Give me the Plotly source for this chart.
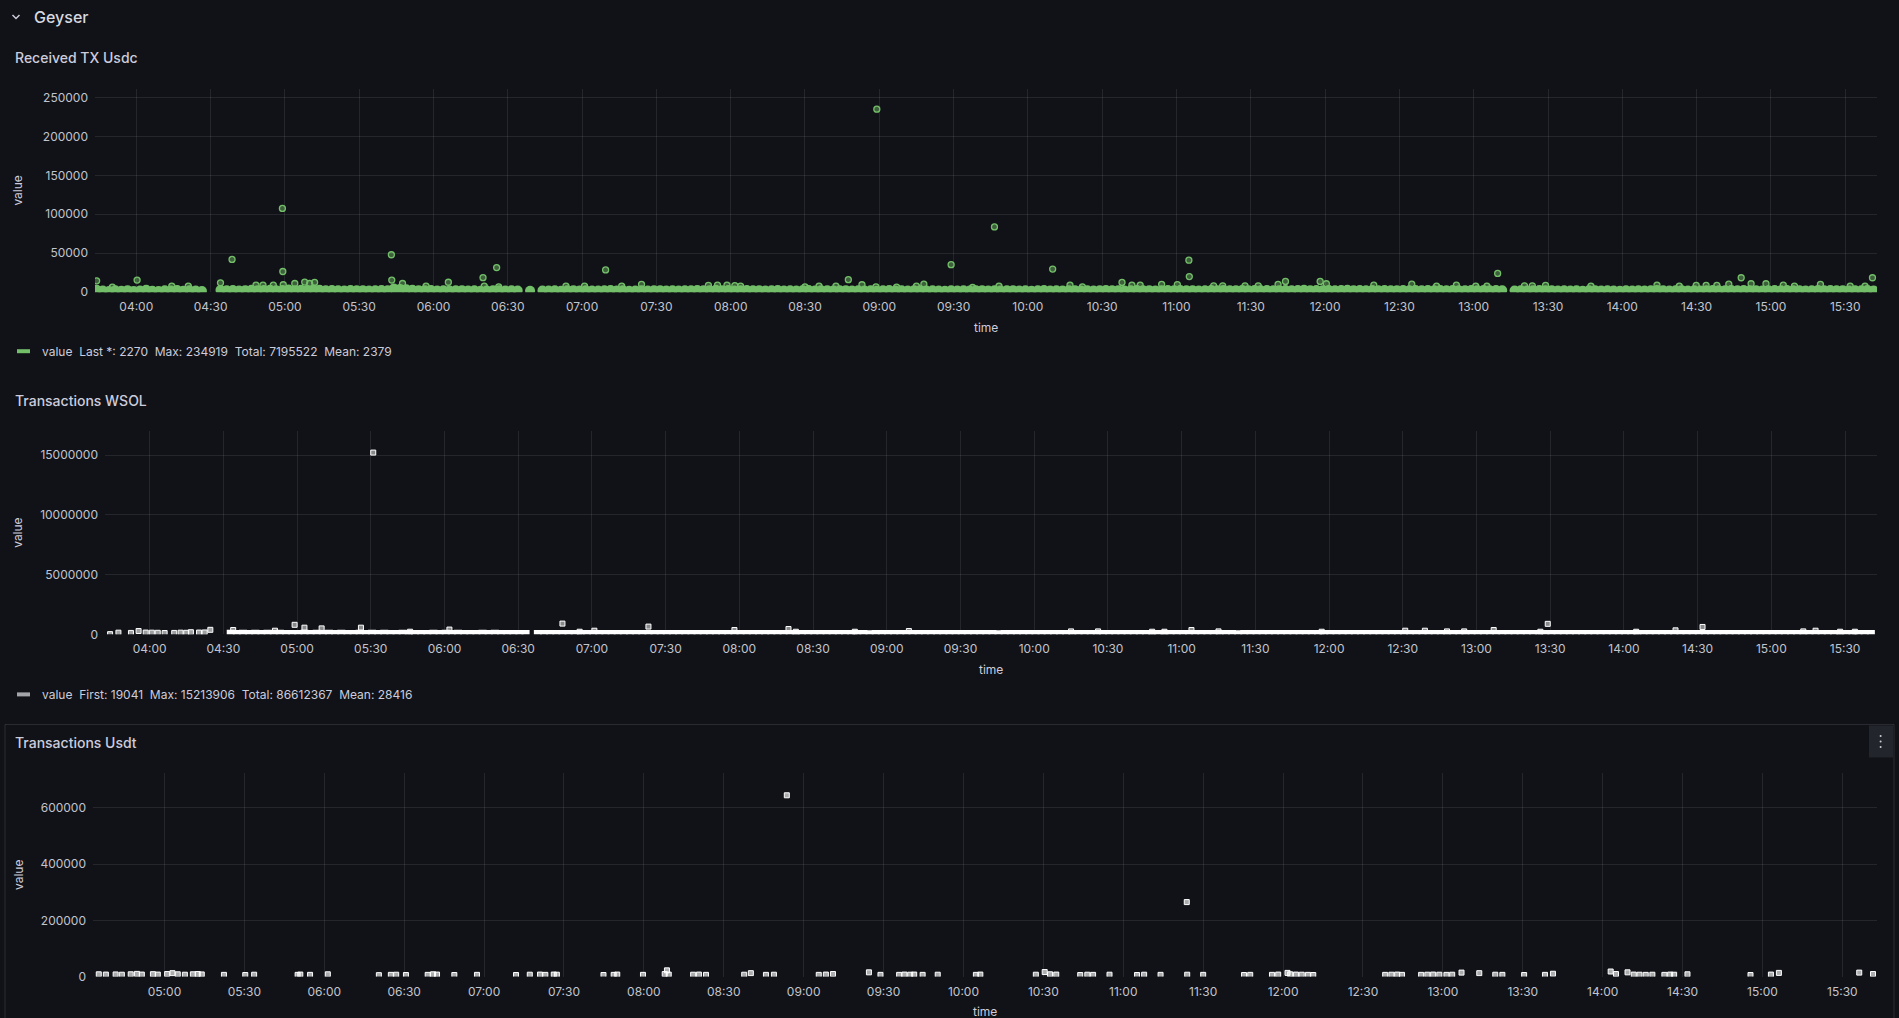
import plotly.graph_objects as go
import pandas as pd

W, H = 1899, 1018
YS = 1.0075  # vertical calibration of page pixels
DAY = "2024-01-01 "
FONT = "Inter"
BG = "#111217"
TXT = "#ccccdc"
TICK = "#c2c4cd"
GRID = "rgba(204,204,220,0.11)"
GREEN = "#73BF69"

# ---------------- Panel 1: Received TX Usdc ----------------
usdc_band_start = "03:44:00"
usdc_band_step = "150s"
usdc_band_values = [
    3200, 2100, 1600, 2400, 1800, 2600, 1500, 2200, 3100, 1900, 1400, 2300, 2000, 2700, 1700, 2500, 2100, 1600, None, None, 2900, 2400, 2800, 2200,
    2600, 3000, 2300, 2700, 3200, 2500, 2900, 3400, 2600, 3100, 2800, 3500, 3000, 2400, 2900, 2500, 2200, 2700, 2300, 2600, 2100, 2500, 2800, 2300,
    4800, 4200, 3600, 3000, 2600, 2400, 2800, 2200, 2500, 2000, 2300, 2600, 2100, 2400, 1900, 2200, 2500, 2300, 2000, 2400, 2100, None, 1800, None,
    2200, 2000, 2400, 1900, 2300, 2600, 2100, 2500, 2200, 2000, 2400, 2700, 2100, 2300, 1900, 2200, 2500, 2000, 2300, 2600, 2200, 2400, 2000, 2300,
    2500, 2800, 2300, 2600, 3000, 2400, 2700, 2200, 2500, 2900, 2300, 2600, 2100, 2400, 2800, 2200, 2500, 2000, 2300, 2700, 2100, 2400, 2600, 2200,
    2300, 2600, 2000, 2400, 2200, 2500, 1900, 2300, 2700, 2100, 2400, 2000, 2300, 2600, 2100, 2400, 2200, 1700, 2500, 2100, 2400, 2000, 2300, 2600,
    2200, 2500, 2000, 2300, 2600, 2100, 2400, 1900, 2300, 2700, 2200, 2500, 2000, 2400, 2600, 2200, 2500, 2100, 2400, 2800, 2300, 2600, 2200, 2500,
    2700, 2300, 2600, 2200, 2500, 2900, 2400, 2700, 2300, 2600, 2200, 2500, 2800, 2400, 2700, 2300, 2600, 2900, 2500, 2800, 2400, 2700, 2300, 2600,
    2900, 2500, 2800, 3100, 2600, 2900, 2500, 2800, 2400, 2700, 3000, 2600, 2900, 2500, 2800, 2400, 2700, 2300, 2600, 2900, 2500, 2800, 2400, 2700,
    2500, 2800, 2400, 2700, 2300, 2600, 2900, 2500, 2800, 2400, 2700, 2300, None, 2200, 2500, 2100, 2400, 2700, 2300, 2600, 2200, 2500, 2100, 2400,
    1900, 2300, 2600, 2200, 2500, 2100, 1800, 2400, 2200, 2500, 2100, 2400, 2700, 2300, 2000, 2400, 2600, 2200, 2500, 2100, 2400, 2800, 2300, 2600,
    2800, 2400, 2700, 2300, 2600, 2200, 2500, 2900, 2400, 2700, 2300, 2600, 2200, 2500, 2800, 2400, 2700, 2300, 2600, 2200, 2500, 2400, 2700, 2270,
]
usdc_spike_times = [
    "03:44:00", "04:00:20", "04:34:00", "04:38:40", "04:59:00", "04:59:10", "04:59:20", "05:08:00", "05:12:00",
    "05:43:00", "05:43:10", "06:06:00", "06:20:00", "06:25:30", "07:09:30", "07:24:00", "07:51:00", "08:47:30",
    "08:53:00", "08:59:00", "09:07:00", "09:18:00", "09:29:00", "09:46:30", "10:10:00", "10:38:00", "10:54:00",
    "11:05:00", "11:05:10", "11:41:00", "11:44:00", "11:58:00", "12:00:30", "12:35:00", "12:53:00", "13:09:40",
    "13:29:00", "14:14:00", "14:43:00", "14:48:00", "14:52:00", "14:58:00", "15:20:00", "15:41:00",
    # smaller bumps on top of the dense band
    "03:50:20", "04:14:20", "04:21:00", "04:48:20", "04:51:10", "04:55:20", "05:04:00", "05:10:00", "05:47:30",
    "05:57:00", "06:20:30", "06:26:20", "06:53:30", "07:01:00", "07:16:00", "07:54:40", "07:58:30", "08:01:40",
    "08:04:00", "08:30:00", "08:35:40", "08:42:30", "08:58:40", "09:15:00", "09:37:40", "09:48:20", "10:17:00",
    "10:22:00", "10:42:00", "10:45:20", "11:00:20", "11:15:00", "11:18:40", "11:27:40", "11:33:00", "12:19:40",
    "12:45:00", "13:00:50", "13:05:20", "13:20:30", "13:23:40", "13:47:20", "14:23:00", "14:29:50", "14:33:50",
    "14:38:10", "15:05:00", "15:09:30", "15:32:00", "15:38:00",
]
usdc_spike_values = [
    14600, 15500, 12000, 42000, 107500, 26500, 9500, 12900, 12500,
    48000, 15500, 12700, 18600, 31500, 28500, 10000, 8600, 16000,
    9500, 234919, 6500, 10300, 35300, 83800, 29700, 12500, 10000,
    41000, 20000, 10000, 13800, 13800, 10800, 10300, 9000, 24100,
    8600, 9000, 10300, 18500, 10800, 10800, 10000, 18500,
    6500, 7800, 7800, 9000, 9000, 9000, 11100, 11100, 11100,
    7800, 7800, 6900, 7800, 7800, 7800, 9000, 9000, 8500,
    7800, 6900, 7800, 7800, 6900, 7800, 6000, 7800, 9000,
    6900, 9000, 9000, 9800, 8200, 8200, 8200, 8200, 9000,
    7800, 7800, 7800, 8200, 8200, 7800, 7800, 8600, 8600,
    8600, 9000, 7800, 7800, 7800,
]
usdc_legend = "value  Last *: 2270  Max: 234919  Total: 7195522  Mean: 2379"

# ---------------- Panel 2: Transactions WSOL ----------------
wsol_early_times = [
    "03:43:54", "03:47:18", "03:52:24", "03:55:30", "03:58:24", "04:00:54", "04:03:18", "04:06:06",
    "04:10:00", "04:12:36", "04:14:54", "04:16:48", "04:20:06", "04:22:24", "04:24:42",
]
wsol_early_values = [
    19041, 140000, 120000, 280000, 150000, 140000, 130000, 110000,
    120000, 140000, 130000, 180000, 150000, 160000, 380000,
]
wsol_band_start = "04:33:00"
wsol_band_step = "150s"
wsol_band_values = [
    52000, 38000, 45000, 30000, 61000, 27000, 44000, 35000, 58000, 31000, 40000, 26000, 49000, 36000, 43000, 29000, 55000, 33000, 47000, 28000, 39000, 51000, 34000, 42000,
    30000, 46000, 25000, 38000, 53000, 32000, 41000, 27000, 36000, 48000, 29000, 44000, 35000, 50000, 31000, 39000, 26000, 45000, 33000, 42000, 28000, 37000, 24000, 40000,
    27000, None, 22000, 31000, 26000, 35000, 23000, 29000, 38000, 25000, 32000, 21000, 28000, 34000, 24000, 30000, 36000, 22000, 27000, 33000, 25000, 29000, 37000, 23000,
    31000, 26000, 34000, 22000, 28000, 39000, 24000, 30000, 35000, 21000, 27000, 32000, 25000, 36000, 23000, 29000, 33000, 26000, 31000, 22000, 28000, 35000, 24000, 30000,
    25000, 32000, 21000, 28000, 34000, 23000, 27000, 31000, 20000, 26000, 33000, 24000, 29000, 22000, 30000, 25000, 35000, 21000, 27000, 32000, 23000, 28000, 26000, 31000,
    22000, 29000, 34000, 24000, 27000, 20000, 31000, 25000, 28000, 33000, 21000, 26000, 30000, 23000, 35000, 24000, 28000, 22000, 32000, 26000, 29000, 21000, 27000, 31000,
    24000, 30000, 22000, 27000, 33000, 25000, 29000, 21000, 26000, 32000, 23000, 28000, 34000, 24000, 30000, 22000, 27000, 31000, 25000, 29000, 20000, 26000, 33000, 23000,
    28000, 32000, 24000, 30000, 21000, 27000, 35000, 25000, 29000, 22000, 31000, 26000, 28000, 33000, 23000, 30000, 25000, 36000, 27000, 24000, 32000, 21000, 29000, 26000,
    31000, 23000, 28000, 34000, 25000, 30000, 22000, 27000, 33000, 24000, 29000, 37000, 26000, 31000, 21000, 28000, 35000, 25000, 30000, 23000, 27000, 32000, 24000, 29000,
    26000, 33000, 22000, 28000, 36000, 25000, 30000, 21000, 27000, 34000, 24000, 29000, 23000, 31000, 26000, 38000, 24000, 28000, 22000, 32000, 27000, 25000, 30000, 23000,
    29000, 35000, 24000, 31000, 26000, 22000, 28000, 33000, 25000, 30000, 21000, 27000, 34000, 24000, 29000, 23000, 31000, 26000, 37000, 25000, 28000, 22000, 30000, 27000,
    33000, 24000, 29000, 36000,
]
wsol_spike_times = [
    "04:34:00", "04:51:00", "04:59:00", "05:03:00", "05:10:00", "05:26:00", "05:31:00", "05:46:00", "06:02:00",
    "06:48:00", "06:55:00", "07:01:00", "07:23:00", "07:58:00", "08:20:00", "08:23:00", "08:47:00", "09:09:00",
    "10:15:00", "10:26:00", "10:48:00", "10:53:00", "11:04:00", "11:15:00", "11:57:00", "12:31:00", "12:39:00",
    "12:48:00", "12:55:00", "13:07:00", "13:26:00", "13:29:00", "14:05:00", "14:21:00", "14:32:00", "15:13:00",
    "15:18:00", "15:28:00", "15:34:00",
]
wsol_spike_values = [
    364000, 305000, 800000, 560000, 500000, 560000, 15213906, 220000, 400000,
    900000, 220000, 305000, 650000, 364000, 450000, 220000, 220000, 280000,
    250000, 250000, 220000, 220000, 364000, 250000, 220000, 305000, 305000,
    250000, 250000, 364000, 220000, 880000, 220000, 335000, 620000, 250000,
    305000, 220000, 220000,
]
wsol_legend = "value  First: 19041  Max: 15213906  Total: 86612367  Mean: 28416"

# ---------------- Panel 3: Transactions Usdt ----------------
usdt_times = [
    "04:35:20", "04:38:00", "04:41:40", "04:44:00", "04:47:20", "04:49:40", "04:51:30", "04:55:40", "04:57:30",
    "05:01:00", "05:03:00", "05:05:00", "05:07:40", "05:10:40", "05:12:30", "05:14:00", "05:22:20", "05:30:20",
    "05:33:40", "05:50:00", "05:51:00", "05:54:40", "06:01:20", "06:20:30", "06:25:00", "06:27:00", "06:30:40",
    "06:38:50", "06:40:50", "06:42:20", "06:48:50", "06:57:20", "07:12:00", "07:17:10", "07:21:00", "07:23:00",
    "07:26:10", "07:27:20", "07:44:50", "07:48:40", "07:50:00", "07:59:40", "08:07:50", "08:08:40", "08:09:20",
    "08:18:30", "08:20:40", "08:23:20", "08:37:40", "08:40:10", "08:45:50", "08:48:50", "08:53:40", "09:05:40",
    "09:08:20", "09:11:00", "09:24:30", "09:28:50", "09:35:50", "09:37:50", "09:40:00", "09:41:30", "09:44:40",
    "09:50:20", "10:04:40", "10:06:20", "10:27:10", "10:30:30", "10:32:30", "10:34:50", "10:43:50", "10:46:30",
    "10:48:40", "10:54:50", "11:05:10", "11:07:50", "11:14:00", "11:23:50", "11:24:00", "11:30:00", "11:45:20",
    "11:47:40", "11:55:50", "11:58:10", "12:01:40", "12:02:40", "12:04:50", "12:07:00", "12:09:20", "12:11:20",
    "12:38:20", "12:40:40", "12:42:50", "12:44:40", "12:51:50", "12:54:10", "12:56:20", "12:58:40", "13:01:20",
    "13:03:30", "13:07:00", "13:13:40", "13:19:40", "13:22:20", "13:30:30", "13:38:20", "13:41:20", "14:03:00",
    "14:05:00", "14:09:20", "14:11:40", "14:13:50", "14:16:10", "14:18:40", "14:23:10", "14:25:20", "14:26:50",
    "14:31:50", "14:55:30", "15:03:10", "15:06:10", "15:36:20", "15:41:30",
]
usdt_values = [
    8000, 7000, 7500, 6500, 8000, 9500, 7000, 8500, 7000,
    9000, 12000, 8000, 6500, 8000, 9000, 7500, 6000, 5500,
    6500, 6000, 7000, 6000, 8000, 5000, 6000, 6500, 5500,
    6000, 8000, 7000, 5500, 6000, 5500, 6500, 7000, 6000,
    7000, 6500, 5500, 6000, 7000, 6000, 9000, 22000, 7000,
    6500, 7000, 6000, 6500, 12000, 6000, 6500, 645000, 6000,
    7000, 9000, 15000, 6000, 6000, 7000, 6500, 7000, 6000,
    6500, 6000, 7000, 6500, 16000, 8000, 7000, 5500, 6500,
    6000, 6500, 5500, 6500, 6000, 265000, 6500, 6000, 5500,
    6000, 6000, 7000, 13000, 8000, 7000, 6500, 6000, 5500,
    6000, 6500, 7000, 6000, 6000, 6500, 7000, 6500, 6000,
    6500, 14000, 12000, 6500, 6000, 5500, 6000, 10000, 18000,
    9000, 15000, 7000, 6500, 6000, 6500, 6000, 7000, 6500,
    8000, 5500, 7000, 13000, 14000, 9000,
]

# ---------------- geometry (pixels in the 1899x1018 page) ----------------
def fx(p):
    return p / W

def fy(p):
    return 1 - (p * YS) / H

def t(s):
    return pd.to_datetime(DAY + s)

fig = go.Figure()

# Panel 1 traces
band1_x = pd.date_range(t(usdc_band_start), periods=len(usdc_band_values), freq=usdc_band_step)
fig.add_trace(go.Scatter(x=band1_x, y=usdc_band_values, mode="markers", xaxis="x", yaxis="y",
                         marker=dict(symbol="circle", size=10, color=GREEN, line=dict(width=0)),
                         hoverinfo="skip", showlegend=False))
fig.add_trace(go.Scatter(x=[t(s) for s in usdc_spike_times], y=usdc_spike_values, mode="markers", xaxis="x", yaxis="y",
                         marker=dict(symbol="circle", size=6, color="rgba(115,191,105,0.45)", line=dict(width=1.3, color=GREEN)),
                         showlegend=False))

# Panel 2 traces
band2_x = pd.date_range(t(wsol_band_start), periods=len(wsol_band_values), freq=wsol_band_step)
fig.add_trace(go.Scatter(x=band2_x, y=wsol_band_values, mode="markers", xaxis="x2", yaxis="y2",
                         marker=dict(symbol="square", size=8, color="#ffffff", line=dict(width=0)),
                         hoverinfo="skip", showlegend=False))
fig.add_trace(go.Scatter(x=[t(s) for s in wsol_early_times], y=wsol_early_values, mode="markers", xaxis="x2", yaxis="y2",
                         marker=dict(symbol="square", size=5, color="rgba(255,255,255,0.6)", line=dict(width=1, color="#ffffff")),
                         showlegend=False))
fig.add_trace(go.Scatter(x=[t(s) for s in wsol_spike_times], y=wsol_spike_values, mode="markers", xaxis="x2", yaxis="y2",
                         marker=dict(symbol="square", size=5, color="rgba(255,255,255,0.5)", line=dict(width=1, color="#ffffff")),
                         showlegend=False))

# Panel 3 traces
fig.add_trace(go.Scatter(x=[t(s) for s in usdt_times], y=usdt_values, mode="markers", xaxis="x3", yaxis="y3",
                         marker=dict(symbol="square", size=5, color="rgba(255,255,255,0.65)", line=dict(width=1, color="#ffffff")),
                         showlegend=False))

panels = [
    dict(xa="xaxis", ya="yaxis", xr="x", yr="y", l=95, r=1877, top=89, bot=292,
         tr=["03:43:20", "15:42:50"], yrng=[0, 260700], yt=[0, 50000, 100000, 150000, 200000, 250000]),
    dict(xa="xaxis2", ya="yaxis2", xr="x2", yr="y2", l=105, r=1877, top=431, bot=634,
         tr=["03:41:50", "15:43:00"], yrng=[0, 17000000], yt=[0, 5000000, 10000000, 15000000]),
    dict(xa="xaxis3", ya="yaxis3", xr="x3", yr="y3", l=93, r=1877, top=773, bot=976,
         tr=["04:33:10", "15:43:00"], yrng=[0, 722800], yt=[0, 200000, 400000, 600000]),
]

layout = dict(
    width=W, height=H, margin=dict(l=0, r=0, t=0, b=0),
    paper_bgcolor=BG, plot_bgcolor=BG,
    font=dict(family=FONT, color=TXT, size=12),
    showlegend=False,
)
for p in panels:
    layout[p["xa"]] = dict(
        domain=[fx(p["l"]), fx(p["r"])], anchor=p["yr"], type="date",
        range=[t(p["tr"][0]), t(p["tr"][1])],
        tickformat="%H:%M", dtick=1800000, tick0=DAY + "00:00",
        showgrid=True, gridcolor=GRID, gridwidth=1, zeroline=False, showline=False,
        ticks="", ticklabelstandoff=6,
        tickfont=dict(family=FONT, size=12, color=TICK), fixedrange=True,
    )
    layout[p["ya"]] = dict(
        domain=[fy(p["bot"]), fy(p["top"])], anchor=p["xr"], range=p["yrng"],
        tickmode="array", tickvals=p["yt"], ticktext=[str(v) for v in p["yt"]],
        showgrid=True, gridcolor=GRID, gridwidth=1, zeroline=False, showline=False,
        ticks="", ticklabelstandoff=6,
        tickfont=dict(family=FONT, size=12, color=TICK), fixedrange=True,
    )
fig.update_layout(**layout)

ann = []
def text(x, y, s, size=12, color=TXT, xanchor="left", weight=None, angle=0):
    f = dict(family=FONT, size=size, color=color)
    if weight:
        f["weight"] = weight
    ann.append(dict(x=fx(x), y=fy(y), xref="paper", yref="paper", text=s, showarrow=False,
                    xanchor=xanchor, yanchor="middle", font=f, textangle=angle))

text(32, 17, "Geyser", size=16, weight=500, color="#d8d9e0")
text(13, 57, "Received TX Usdc", size=14, weight=500)
text(13, 400, "Transactions WSOL", size=14, weight=500)
text(13, 742, "Transactions Usdt", size=14, weight=500)
for p in panels:
    text(18, (p["top"] + p["bot"]) / 2, "value", size=12, xanchor="center", angle=-90)
    text((p["l"] + p["r"]) / 2, p["bot"] + 35, "time", size=12, xanchor="center")
text(40, 351, usdc_legend, size=12)
text(40, 694, wsol_legend, size=12)

shapes = []
shapes.append(dict(type="path", xref="paper", yref="paper",
                   path=f"M {fx(12.5)} {fy(15)} L {fx(16)} {fy(18.5)} L {fx(19.5)} {fy(15)}",
                   line=dict(color=TXT, width=1.5)))
shapes.append(dict(type="rect", xref="paper", yref="paper", x0=fx(17), x1=fx(30), y0=fy(353), y1=fy(349),
                   fillcolor=GREEN, line=dict(width=0)))
shapes.append(dict(type="rect", xref="paper", yref="paper", x0=fx(17), x1=fx(30), y0=fy(696), y1=fy(692),
                   fillcolor="#a3a4aa", line=dict(width=0)))
shapes.append(dict(type="rect", xref="paper", yref="paper", x0=fx(5), x1=fx(1894), y0=fy(1040), y1=fy(724),
                   fillcolor="rgba(0,0,0,0)", line=dict(color="rgba(204,204,220,0.15)", width=1)))
shapes.append(dict(type="rect", xref="paper", yref="paper", x0=fx(1869), x1=fx(1893), y0=fy(757), y1=fy(725),
                   fillcolor="#22252b", line=dict(width=0)))
for dy in (735.5, 741, 746.5):
    shapes.append(dict(type="circle", xref="paper", yref="paper", x0=fx(1879.6), x1=fx(1881.6), y0=fy(dy + 1), y1=fy(dy - 1),
                       fillcolor=TXT, line=dict(width=0)))

fig.update_layout(annotations=ann, shapes=shapes)
fig.write_html("out.html")
